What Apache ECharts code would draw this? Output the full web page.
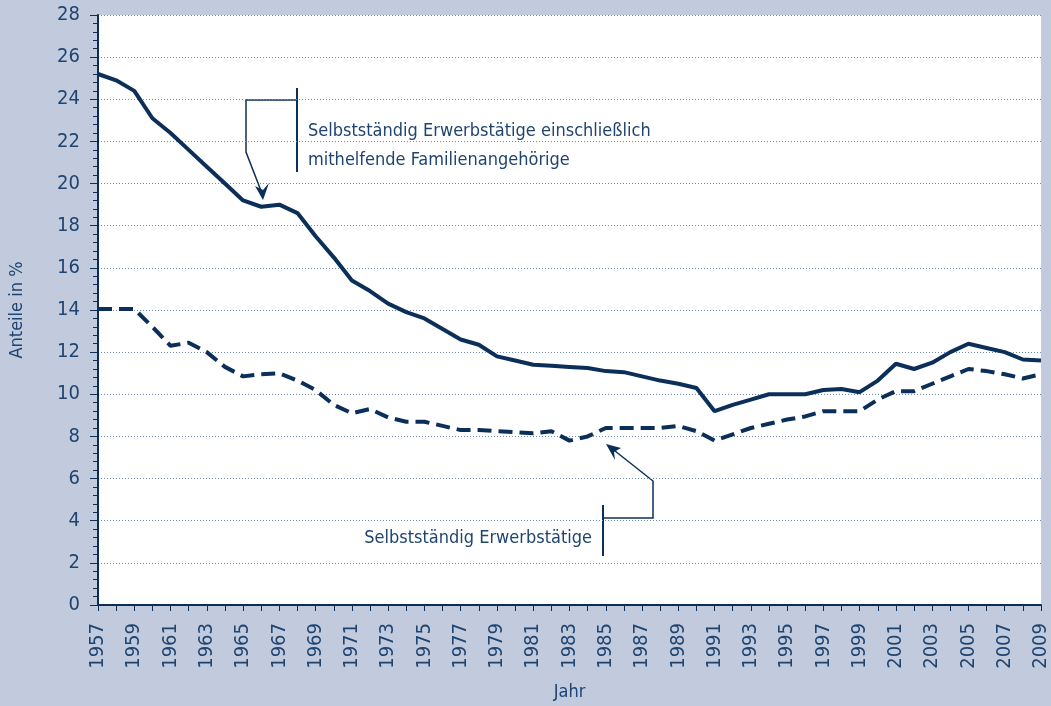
<!DOCTYPE html>
<html>
<head>
<meta charset="utf-8">
<script src="https://cdn.jsdelivr.net/npm/echarts@6/dist/echarts.min.js"></script>
<style>
  html, body { margin: 0; padding: 0; background: #c1cbdd; }
  #chart { width: 1051px; height: 706px; }
</style>
</head>
<body>
<div id="chart"></div>
<script>
var chart = echarts.init(document.getElementById('chart'));

var years = [];
for (var y = 1957; y <= 2009; y++) years.push(String(y));

// Selbstständig Erwerbstätige einschließlich mithelfende Familienangehörige
var mitFamilie = [25.2, 24.9, 24.4, 23.1, 22.4, 21.6, 20.8, 20.0, 19.2, 18.9,
                  19.0, 18.6, 17.5, 16.5, 15.4, 14.9, 14.3, 13.9, 13.6, 13.1,
                  12.6, 12.35, 11.8, 11.6, 11.4, 11.35, 11.3, 11.25, 11.1, 11.05,
                  10.85, 10.65, 10.5, 10.3, 9.2, 9.5, 9.75, 10.0, 10.0, 10.0,
                  10.2, 10.25, 10.1, 10.65, 11.45, 11.2, 11.5, 12.0, 12.4, 12.2,
                  12.0, 11.65, 11.6];
// Selbstständig Erwerbstätige
var selbst = [14.05, 14.05, 14.05, 13.2, 12.3, 12.45, 12.0, 11.3, 10.85, 10.95,
              11.0, 10.65, 10.2, 9.5, 9.1, 9.3, 8.9, 8.7, 8.7, 8.5,
              8.3, 8.3, 8.25, 8.2, 8.15, 8.25, 7.8, 8.0, 8.4, 8.4,
              8.4, 8.4, 8.5, 8.25, 7.8, 8.1, 8.4, 8.6, 8.8, 8.95,
              9.2, 9.2, 9.2, 9.75, 10.15, 10.15, 10.5, 10.85, 11.2, 11.1,
              10.95, 10.75, 10.95];

var navy = '#0b2f59';
var textCol = '#1f4470';
var font = '"Liberation Sans Narrow", "DejaVu Sans Condensed", sans-serif';

var option = {
    backgroundColor: '#c1cbdd',
    animation: false,
    grid: { left: 95, right: 10, top: 15, bottom: 100, show: true, backgroundColor: '#ffffff', borderWidth: 0 },
    xAxis: {
        type: 'category',
        data: years,
        boundaryGap: false,
        name: 'Jahr',
        nameLocation: 'middle',
        nameGap: 78,
        nameTextStyle: { color: textCol, fontSize: 18, fontFamily: font },
        axisLine: { lineStyle: { color: navy, width: 2 } },
        axisTick: { interval: 0, length: 6, lineStyle: { color: navy } },
        axisLabel: { interval: 1, rotate: 90, color: textCol, fontSize: 20, fontFamily: font, margin: 18 },
        splitLine: { show: false }
    },
    yAxis: {
        type: 'value',
        min: 0,
        max: 28,
        interval: 2,
        name: 'Anteile in %',
        nameLocation: 'middle',
        nameGap: 72,
        nameTextStyle: { color: textCol, fontSize: 18, fontFamily: font },
        axisLine: { show: true, lineStyle: { color: navy, width: 2 } },
        axisTick: { show: true, length: 8, lineStyle: { color: navy } },
        minorTick: { show: true, splitNumber: 5, length: 5, lineStyle: { color: navy } },
        axisLabel: { color: textCol, fontSize: 20, fontFamily: font, margin: 18 },
        splitLine: { lineStyle: { color: '#6d8db6', type: [1, 2], width: 1 } }
    },
    series: [
        {
            name: 'Selbstständig Erwerbstätige einschließlich mithelfende Familienangehörige',
            type: 'line',
            data: mitFamilie,
            symbol: 'none',
            lineStyle: { color: navy, width: 4 }
        },
        {
            name: 'Selbstständig Erwerbstätige',
            type: 'line',
            data: selbst,
            symbol: 'none',
            lineStyle: { color: navy, width: 4, type: [14, 7] }
        }
    ],
    graphic: [
        // annotation 1
        { type: 'polyline', shape: { points: [[297, 88], [297, 172]] }, style: { stroke: navy, lineWidth: 2 } },
        { type: 'polyline', shape: { points: [[297, 100], [246, 100], [246, 152], [263, 196]] }, style: { stroke: navy, lineWidth: 1.5, fill: null } },
        { type: 'polygon', shape: { points: [[263, 200], [255, 186], [263, 190], [269, 183]] }, style: { fill: navy } },
        { type: 'text', left: 308, top: 117, style: { text: 'Selbstständig Erwerbstätige einschließlich\nmithelfende Familienangehörige', fill: textCol, fontSize: 18, fontFamily: font, lineHeight: 29 } },
        // annotation 2
        { type: 'polyline', shape: { points: [[603, 505], [603, 556]] }, style: { stroke: navy, lineWidth: 2 } },
        { type: 'polyline', shape: { points: [[603, 518], [653, 518], [653, 481], [610, 447]] }, style: { stroke: navy, lineWidth: 1.5, fill: null } },
        { type: 'polygon', shape: { points: [[606, 444], [621, 448], [614, 452], [615, 460]] }, style: { fill: navy } },
        { type: 'text', right: 1051 - 592, top: 529, style: { text: 'Selbstständig Erwerbstätige', fill: textCol, fontSize: 18, fontFamily: font } }
    ]
};

chart.setOption(option);
</script>
</body>
</html>
